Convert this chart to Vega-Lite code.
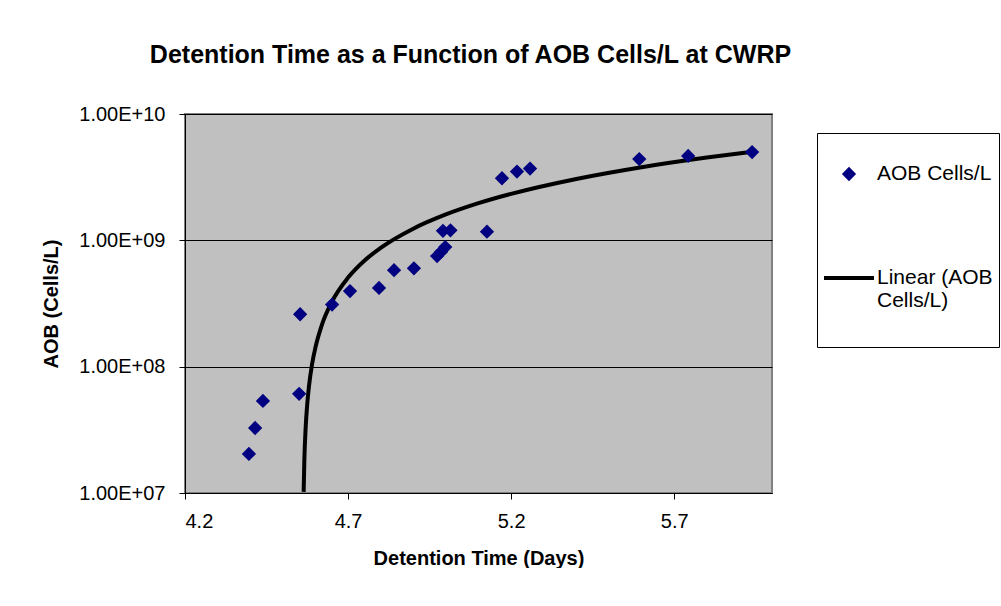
{
  "$schema": "https://vega.github.io/schema/vega-lite/v6.json",
  "width": 587,
  "height": 379,
  "padding": {"left": 41, "top": 43, "right": 0, "bottom": 0},
  "background": "white",
  "title": {
    "text": "Detention Time as a Function of AOB Cells/L at CWRP",
    "font": "Liberation Sans",
    "fontSize": 25,
    "fontWeight": "bold",
    "color": "black",
    "anchor": "middle",
    "offset": 36,
    "dx": -8
  },
  "datasets": {
    "obs": [
      {"days": 4.396, "aob": 2.04e7},
      {"days": 4.415, "aob": 3.27e7},
      {"days": 4.439, "aob": 5.35e7},
      {"days": 4.550, "aob": 6.1e7},
      {"days": 4.553, "aob": 2.6e8},
      {"days": 4.651, "aob": 3.1e8},
      {"days": 4.706, "aob": 3.97e8},
      {"days": 4.795, "aob": 4.2e8},
      {"days": 4.841, "aob": 5.8e8},
      {"days": 4.902, "aob": 6.0e8},
      {"days": 4.973, "aob": 7.5e8},
      {"days": 4.985, "aob": 8.1e8},
      {"days": 4.998, "aob": 8.85e8},
      {"days": 4.991, "aob": 1.19e9},
      {"days": 5.014, "aob": 1.2e9},
      {"days": 5.126, "aob": 1.17e9},
      {"days": 5.172, "aob": 3.1e9},
      {"days": 5.218, "aob": 3.5e9},
      {"days": 5.258, "aob": 3.7e9},
      {"days": 5.593, "aob": 4.4e9},
      {"days": 5.743, "aob": 4.66e9},
      {"days": 5.939, "aob": 5.0e9}
    ],
    "trend": [
      {"days": 4.5638, "aob": 1.02e7},
      {"days": 4.566, "aob": 1.83e7},
      {"days": 4.57, "aob": 3.29e7},
      {"days": 4.575, "aob": 5.11e7},
      {"days": 4.58, "aob": 6.94e7},
      {"days": 4.59, "aob": 1.06e8},
      {"days": 4.6, "aob": 1.42e8},
      {"days": 4.62, "aob": 2.15e8},
      {"days": 4.65, "aob": 3.25e8},
      {"days": 4.7, "aob": 5.07e8},
      {"days": 4.75, "aob": 6.9e8},
      {"days": 4.8, "aob": 8.72e8},
      {"days": 4.9, "aob": 1.237e9},
      {"days": 5.0, "aob": 1.602e9},
      {"days": 5.1, "aob": 1.967e9},
      {"days": 5.2, "aob": 2.332e9},
      {"days": 5.4, "aob": 3.062e9},
      {"days": 5.6, "aob": 3.792e9},
      {"days": 5.8, "aob": 4.522e9},
      {"days": 5.939, "aob": 5.03e9}
    ]
  },
  "config": {
    "view": {"fill": "#C0C0C0", "stroke": "#808080", "strokeWidth": 2},
    "font": "Liberation Sans",
    "axis": {
      "labelFont": "Liberation Sans",
      "labelFontSize": 20,
      "labelColor": "black",
      "titleFont": "Liberation Sans",
      "titleFontSize": 20,
      "titleFontWeight": "bold",
      "titleColor": "black",
      "domainColor": "black",
      "tickColor": "black",
      "tickSize": 6
    },
    "legend": {
      "orient": "none",
      "legendX": 632,
      "legendY": 19,
      "titleOrient": "bottom",
      "titleFontSize": 18,
      "titlePadding": 12,
      "strokeColor": "black",
      "fillColor": "white",
      "padding": 6,
      "labelFont": "Liberation Sans",
      "labelFontSize": 21,
      "labelColor": "black",
      "labelLimit": 400,
      "symbolSize": 4624,
      "rowPadding": 59,
      "labelOffset": -7,
      "symbolOffset": -9
    }
  },
  "layer": [
    {
      "mark": {"type": "rect", "fill": "white"},
      "encoding": {
        "x": {"datum": 5.221, "type": "quantitative"},
        "x2": {"datum": 5.801},
        "y": {"datum": 4.94e8, "type": "quantitative"},
        "y2": {"datum": 1.69e8}
      }
    },
    {
      "mark": {"type": "text", "font": "Liberation Sans", "fontSize": 20, "color": "black", "align": "center", "baseline": "middle"},
      "encoding": {
        "x": {"datum": 5.513, "type": "quantitative"},
        "y": {"datum": 3.83e8, "type": "quantitative"},
        "text": {"value": "y = 4E+09x - 2E+10"}
      }
    },
    {
      "mark": {"type": "text", "font": "Liberation Sans", "fontSize": 20, "color": "black", "align": "center", "baseline": "middle"},
      "encoding": {
        "x": {"datum": 5.513, "type": "quantitative"},
        "y": {"datum": 2.22e8, "type": "quantitative"},
        "text": {"value": "R² = 0.8536"}
      }
    },
    {
      "data": {"name": "trend"},
      "mark": {"type": "line", "stroke": "black", "strokeWidth": 4, "interpolate": "monotone", "clip": true},
      "encoding": {
        "x": {"field": "days", "type": "quantitative"},
        "y": {"field": "aob", "type": "quantitative"}
      }
    },
    {
      "data": {"name": "obs"},
      "transform": [{"calculate": "'AOB Cells/L'", "as": "series"}],
      "mark": {"type": "point", "filled": true, "size": 4624, "opacity": 1},
      "encoding": {
        "x": {
          "field": "days", "type": "quantitative",
          "scale": {"domain": [4.2, 6.0], "nice": false, "zero": false},
          "axis": {"title": "Detention Time (Days)", "values": [4.2, 4.7, 5.2, 5.7], "format": ".1f", "grid": false, "labelPadding": 12, "titlePadding": 17}
        },
        "y": {
          "field": "aob", "type": "quantitative",
          "scale": {"type": "log", "domain": [1e7, 1e10], "nice": false},
          "axis": {
            "title": "AOB (Cells/L)",
            "values": [1e7, 1e8, 1e9, 1e10],
            "labelExpr": "datum.value >= 5e9 ? '1.00E+10' : datum.value >= 5e8 ? '1.00E+09' : datum.value >= 5e7 ? '1.00E+08' : '1.00E+07'",
            "grid": true, "gridColor": "black", "gridOpacity": 1, "gridWidth": 1,
            "labelPadding": 14, "titlePadding": 17
          }
        },
        "color": {
          "field": "series", "type": "nominal",
          "scale": {"domain": ["AOB Cells/L", "Linear (AOB Cells/L)"], "range": ["#000080", "black"]},
          "legend": {
            "title": " ",
            "labelExpr": "datum.value == 'AOB Cells/L' ? datum.value : ['Linear (AOB', 'Cells/L)']"
          }
        },
        "shape": {
          "field": "series", "type": "nominal",
          "scale": {"domain": ["AOB Cells/L", "Linear (AOB Cells/L)"], "range": ["M-0.21,0L0,-0.21L0.21,0L0,0.21Z", "M-0.735,-0.06L0.735,-0.06L0.735,0.06L-0.735,0.06Z"]},
          "legend": {
            "title": " ",
            "labelExpr": "datum.value == 'AOB Cells/L' ? datum.value : ['Linear (AOB', 'Cells/L)']"
          }
        }
      }
    }
  ]
}
